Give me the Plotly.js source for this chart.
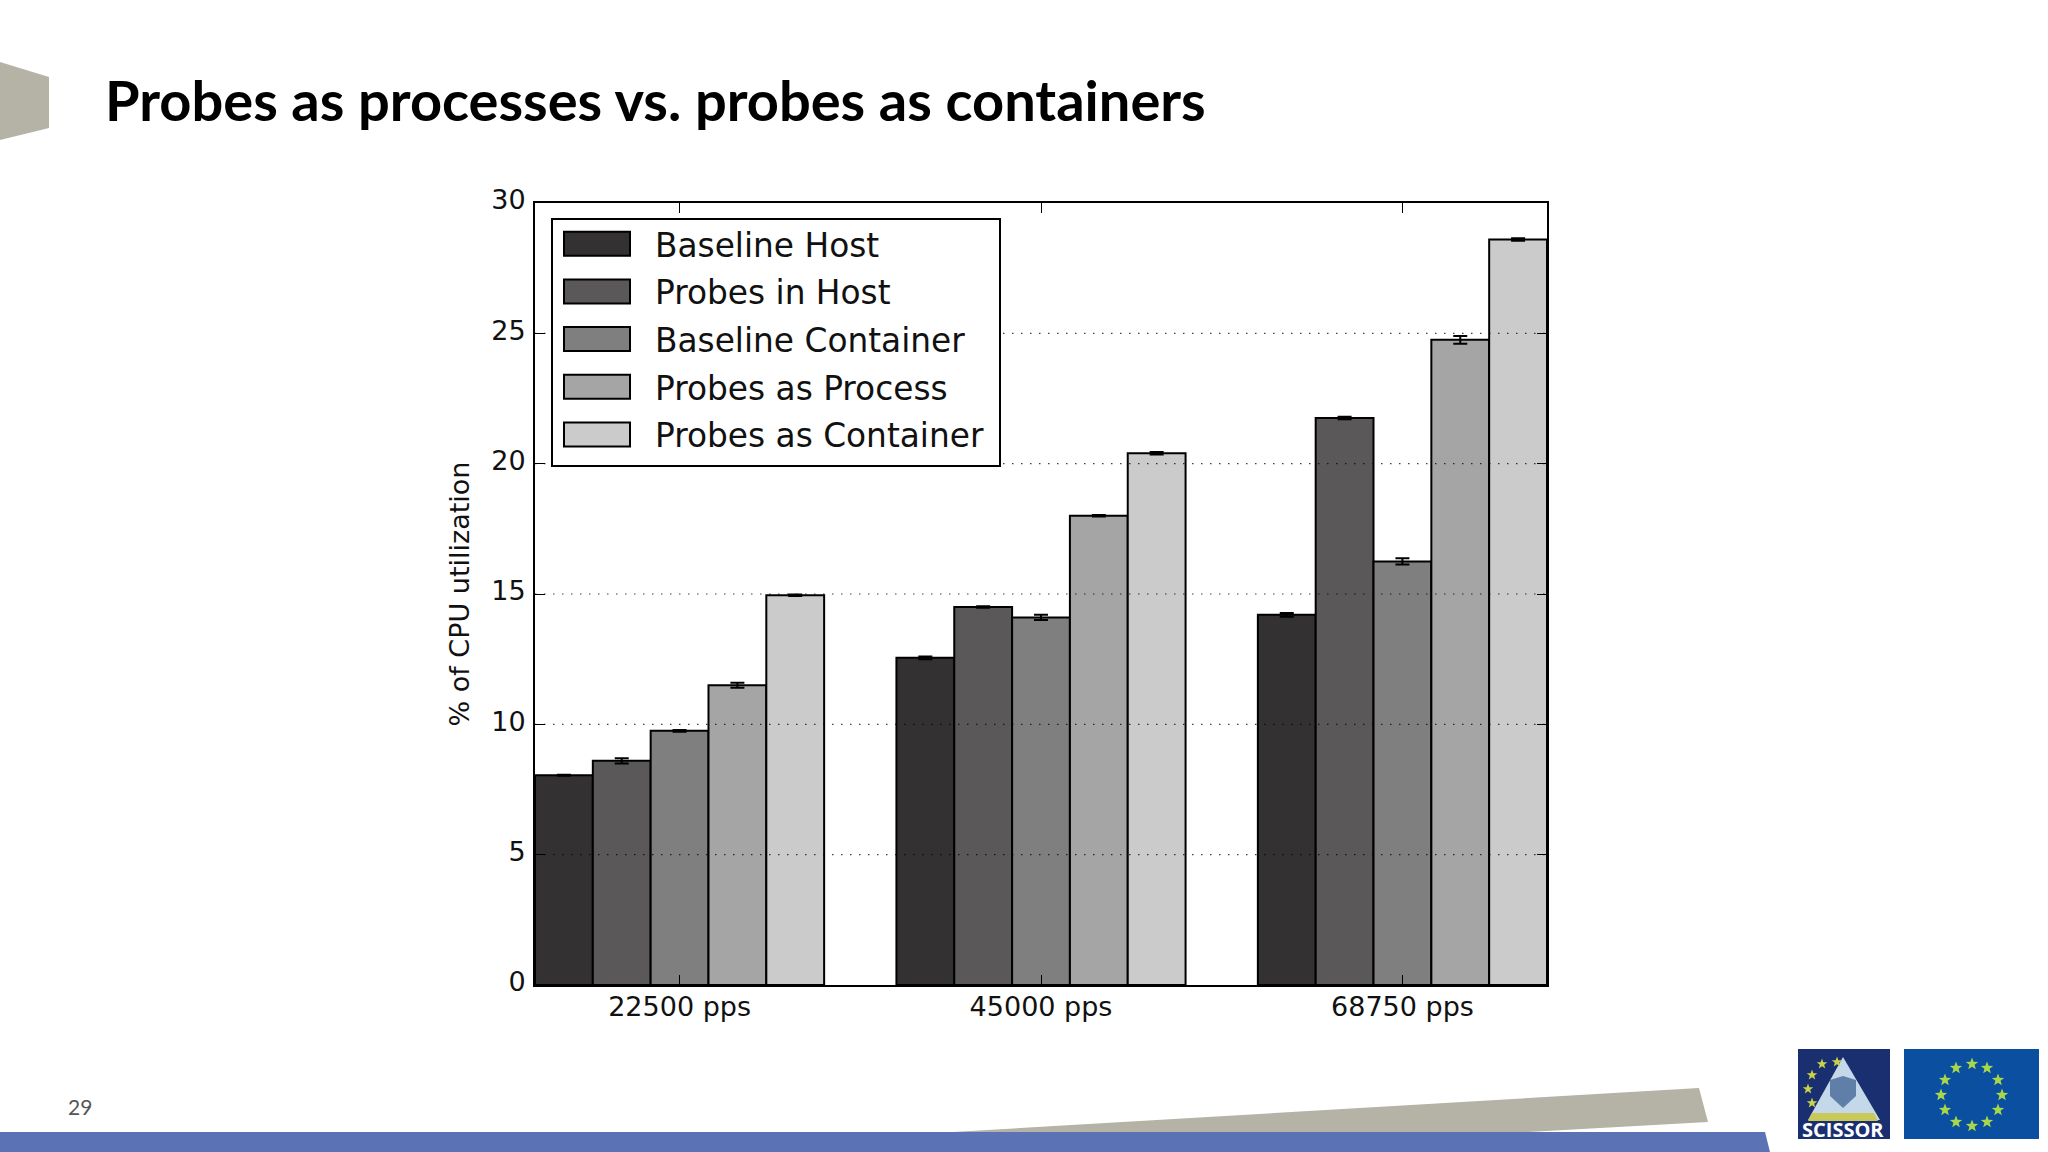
<!DOCTYPE html>
<html><head><meta charset="utf-8">
<script src="https://cdn.plot.ly/plotly-3.0.1.min.js"></script>
<style>html,body{margin:0;padding:0;background:#fff}#chart{width:2048px;height:1152px}</style>
</head><body><div id="chart"></div>
<script>
const categories = [0, 1, 2];
const tickLabels = ["22500 pps", "45000 pps", "68750 pps"];
const seriesNames = ["Baseline Host", "Probes in Host", "Baseline Container", "Probes as Process", "Probes as Container"];
const seriesColors = ["#333132", "#5a5859", "#807f80", "#a6a5a6", "#cccbcc"];
const baselineHost = [8.05, 12.55, 14.2];
const probesInHost = [8.6, 14.5, 21.75];
const baselineContainer = [9.75, 14.1, 16.25];
const probesAsProcess = [11.5, 18.0, 24.75];
const probesAsContainer = [14.95, 20.4, 28.6];
const errHost = [0.02, 0.05, 0.07];
const errProbesHost = [0.1, 0.03, 0.05];
const errContainer = [0.03, 0.1, 0.12];
const errProcess = [0.1, 0.03, 0.15];
const errProbesContainer = [0.03, 0.05, 0.05];
const yTicks = [0, 5, 10, 15, 20, 25, 30];
const gridValues = [5, 10, 15, 20, 25];

const W = 2048, H = 1152, L = 535, R = 1547, T = 203, B = 985;
const px = x => (x - L) / (R - L);
const py = y => (B - y) / (B - T);
const poly = (pts, fill, layer) => ({type:'path', xref:'paper', yref:'paper', layer:layer||'below',
  path:'M' + pts.map(p => px(p[0]) + ',' + py(p[1])).join('L') + 'Z', fillcolor:fill, line:{width:0}});
const star = (c, r, fill) => poly(Array.from({length:10}, (_, k) => {
  const a = -Math.PI/2 + k*Math.PI/5, q = k%2 ? r*0.42 : r;
  return [c[0] + q*Math.cos(a), c[1] + q*Math.sin(a)];
}), fill);

const values = [baselineHost, probesInHost, baselineContainer, probesAsProcess, probesAsContainer];
const errors = [errHost, errProbesHost, errContainer, errProcess, errProbesContainer];
const traces = seriesNames.map((name, i) => ({
  type:'bar', name, x:categories, y:values[i], legendgroup:'g'+i,
  marker:{color:seriesColors[i], line:{color:'#000', width:2}},
  error_y:{type:'data', array:errors[i], visible:true, color:'#000', thickness:2, width:7}
}));

const euStars = [[1972,1064],[1987,1068],[1998,1080],[2002,1095],[1998,1110],[1987,1122],[1972,1126],[1956,1122],[1945,1110],[1941,1095],[1945,1080],[1956,1068]];
const logoStars = [[1822,1064],[1837,1062],[1812,1075],[1808,1089],[1812,1103]];
const shapes = [
  poly([[0,62],[49,77],[49,128],[0,140]], '#b5b2a6'),
  poly([[953,1132],[1699,1088],[1708,1122],[1528,1132]], '#b5b2a6'),
  poly([[0,1132],[1765,1132],[1770,1152],[0,1152]], '#5b72b5'),
  poly([[1904,1049],[2039,1049],[2039,1139],[1904,1139]], '#0a4fa0'),
  poly([[1798,1049],[1890,1049],[1890,1139],[1798,1139]], '#1a2f70'),
  poly([[1843,1057],[1880,1120],[1808,1120]], '#c5d8ea'),
  poly([[1830,1080],[1843,1076],[1856,1080],[1856,1096],[1843,1108],[1830,1096]], '#5f7fa8'),
  poly([[1812,1113],[1874,1113],[1878,1121],[1808,1121]], '#c9c95a')
].concat(euStars.map(c => star(c, 6.5, '#a8d84a')))
 .concat(logoStars.map(c => star(c, 5.5, '#c8d24a')))
 .concat(gridValues.map(v => ({type:'line', xref:'paper', yref:'y', x0:0, x1:1, y0:v, y1:v,
  layer:'above', line:{color:'rgba(0,0,0,0.75)', width:1.2, dash:'1.5px,7.5px'}})));

const annotation = (text, x, y, size, color, family) => ({text, xref:'paper', yref:'paper',
  x:px(x), y:py(y), showarrow:false, xanchor:'center', yanchor:'middle',
  font:{size, color, family}});
const annotations = [
  annotation('29', 80, 1106, 21, '#555', 'Lato, sans-serif'),
  annotation('<b>SCISSOR</b>', 1843, 1129, 20, '#fff', '"Open Sans", sans-serif')
];

const layout = {
  width:W, height:H, margin:{l:L, r:W-R, t:T, b:H-B, pad:0},
  paper_bgcolor:'#fff', plot_bgcolor:'rgba(0,0,0,0)',
  title:{text:'<b>Probes as processes vs. probes as containers</b>', x:105/W, xref:'container', xanchor:'left',
    y:1-101/H, yref:'container', yanchor:'middle', font:{family:'Lato, sans-serif', size:56, color:'#000'}},
  barmode:'group', bargap:0.2, bargroupgap:0,
  showlegend:true,
  legend:{x:px(551), y:py(218), xanchor:'left', yanchor:'top', bgcolor:'#fff', bordercolor:'#000', borderwidth:2,
    font:{family:'DejaVu Sans', size:32.8, color:'#111'}, itemwidth:92, tracegroupgap:2,
    itemclick:false, traceorder:'grouped'},
  xaxis:{range:[-0.4,2.4], tickmode:'array', tickvals:categories, ticktext:tickLabels, ticks:'inside', ticklen:10, tickwidth:1,
    tickcolor:'#000', showline:true, linecolor:'#000', linewidth:2, mirror:'allticks', showgrid:false, zeroline:false,
    tickfont:{family:'DejaVu Sans', size:27, color:'#111'}, ticklabelstandoff:-3},
  yaxis:{range:[0,30], tickmode:'array', tickvals:yTicks, ticks:'inside', ticklen:10, tickwidth:1,
    tickcolor:'#000', showline:true, linecolor:'#000', linewidth:2, mirror:'allticks', showgrid:false, zeroline:false,
    tickfont:{family:'DejaVu Sans', size:27, color:'#111'}, ticklabelstandoff:2, ticklabelshift:-3,
    title:{text:'% of CPU utilization', standoff:14, font:{family:'DejaVu Sans', size:27, color:'#111'}}},
  shapes, annotations
};
function fixLegend(gd) {
  gd.querySelectorAll('.legend .legendpoints path').forEach(p => {
    p.setAttribute('d', 'M26,8H-40V-16H26Z');
    p.style.strokeWidth = '2px';
  });
  gd.querySelectorAll('.legend .legendtext').forEach(t => { t.style.transform = 'translateY(-4px)'; });
  const bg = gd.querySelector('.legend rect.bg');
  if (bg) { bg.setAttribute('width', 448); bg.setAttribute('height', 247); }
}
Plotly.newPlot('chart', traces, layout, {displayModeBar:false, responsive:false}).then(gd => {
  fixLegend(gd);
  gd.on('plotly_afterplot', () => fixLegend(gd));
  setTimeout(() => fixLegend(gd), 100);
});
</script></body></html>
